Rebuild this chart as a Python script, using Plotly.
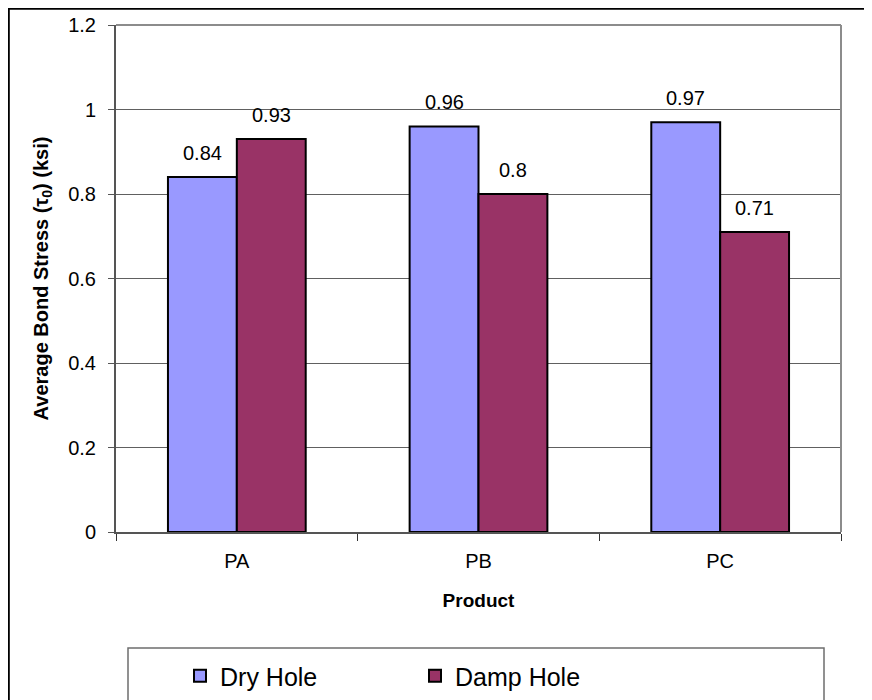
import plotly.graph_objects as go

categories = ["PA", "PB", "PC"]
dry_hole = [0.84, 0.96, 0.97]
damp_hole = [0.93, 0.80, 0.71]
y_ticks = [0, 0.2, 0.4, 0.6, 0.8, 1, 1.2]
y_tick_labels = ["0", "0.2", "0.4", "0.6", "0.8", "1", "1.2"]

FONT = "Arial, 'Liberation Sans', sans-serif"
OFF = 8  # default page body margin
W, H = 864, 692
L, R, T, B = 108, 31, 17, 168
PW, PH = W - L - R, H - T - B


def px(xs):
    """screen x -> paper x"""
    return (xs - OFF - L) / PW


def py(ys):
    """screen y -> paper y"""
    return (H - B - (ys - OFF)) / PH


fig = go.Figure()
fig.add_trace(go.Bar(
    name="Dry Hole", x=categories, y=dry_hole,
    marker=dict(color="#9999FF", line=dict(color="black", width=2)),
))
fig.add_trace(go.Bar(
    name="Damp Hole", x=categories, y=damp_hole,
    marker=dict(color="#993366", line=dict(color="black", width=2)),
))

annotations = []
for series, shift in ((dry_hole, -34.5), (damp_hole, 34.5)):
    for c, v in zip(categories, series):
        annotations.append(dict(
            x=c, y=v, xref="x", yref="y", text=f"{v:g}", showarrow=False,
            xshift=shift, yshift=24, yanchor="middle",
            font=dict(family=FONT, size=20, color="black"),
        ))

shapes = [
    dict(type="rect", xref="paper", yref="paper",
         x0=px(8.8), x1=px(W + 40), y0=py(8.8), y1=py(H + 40),
         line=dict(color="black", width=2), layer="below"),
    dict(type="line", xref="paper", yref="paper", x0=0, x1=1, y0=1, y1=1,
         line=dict(color="#8c8c8c", width=2)),
    dict(type="line", xref="paper", yref="paper", x0=1, x1=1, y0=0, y1=1,
         line=dict(color="#8c8c8c", width=2)),
    dict(type="rect", xref="paper", yref="paper",
         x0=px(128), x1=px(824), y0=py(648), y1=py(H + 40),
         line=dict(color="#6e6e6e", width=1.5)),
]

fig.update_layout(
    width=W, height=H,
    margin=dict(l=L, r=R, t=T, b=B, pad=0, autoexpand=False),
    paper_bgcolor="white", plot_bgcolor="white",
    font=dict(family=FONT, size=20, color="black"),
    barmode="group", bargap=0.43, bargroupgap=0,
    showlegend=True,
    legend=dict(
        orientation="h", x=px(180), y=py(653), xanchor="left", yanchor="top",
        font=dict(family=FONT, size=25, color="black"),
        bgcolor="rgba(0,0,0,0)", borderwidth=0,
        entrywidth=190, entrywidthmode="pixels",
    ),
    xaxis=dict(
        title=dict(text="<b>Product</b>", font=dict(size=19), standoff=23),
        showline=True, linecolor="#555555", linewidth=2,
        ticks="outside", tickson="boundaries", ticklen=7, tickcolor="#333333",
        tickfont=dict(size=20), ticklabelstandoff=10, showgrid=False,
        automargin=False,
    ),
    yaxis=dict(
        title=dict(text="<b>Average Bond Stress (τ<sub>0</sub>) (ksi)</b>",
                   font=dict(size=20), standoff=14),
        range=[0, 1.2], tickvals=y_ticks, ticktext=y_tick_labels,
        showline=True, linecolor="#555555", linewidth=2,
        ticks="outside", ticklen=6, tickcolor="#555555",
        tickfont=dict(size=20), ticklabelstandoff=8,
        showgrid=True, gridcolor="#606060", gridwidth=1, zeroline=False,
        automargin=False,
    ),
    annotations=annotations,
    shapes=shapes,
)

fig.write_html("out.html")
